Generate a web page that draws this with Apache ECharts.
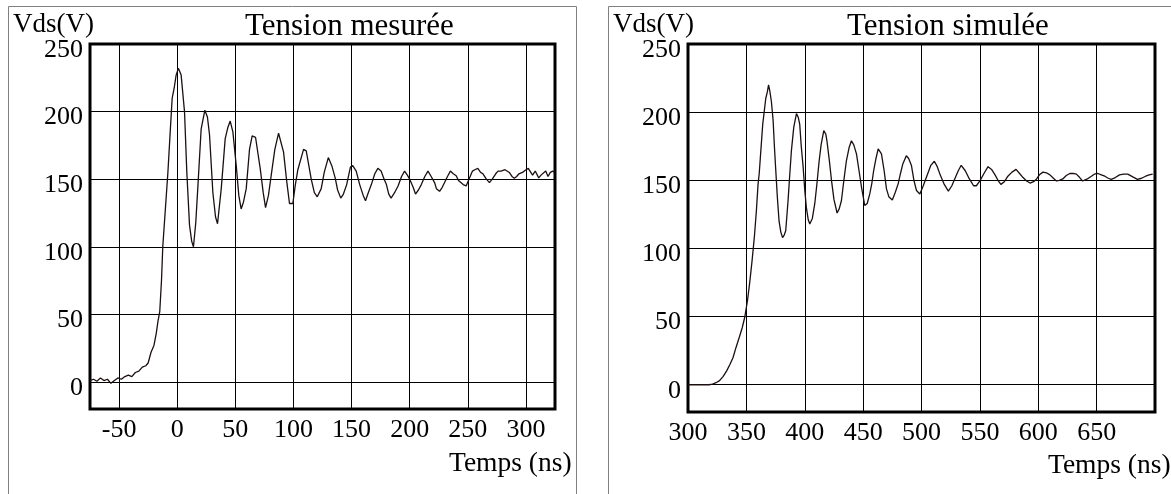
<!DOCTYPE html>
<html>
<head>
<meta charset="utf-8">
<script src="https://cdn.jsdelivr.net/npm/echarts@6/dist/echarts.min.js"></script>
<style>
  html, body { margin: 0; padding: 0; background: #fff; }
  #chart { width: 1171px; height: 494px; }
</style>
</head>
<body>
<div id="chart"></div>
<script>
// Tension mesurée (ns, V)
const measTime = [-75, -72, -69, -66, -63, -60, -57, -54, -51, -48, -45, -42, -39, -36, -33, -30, -27, -25, -22.5, -20,
  -18, -16.5, -15, -13.5, -12.4, -10, -8, -6, -4.3, -2.5, -0.9, 1, 2, 3.4, 5, 6.3, 8.3, 10.6, 12.5, 14,
  16, 17.7, 20.6, 23.8, 26, 27.8, 30.7, 33, 34.7, 37.9, 41.3, 43.5, 45.6, 47.9, 50.8, 53, 55, 57, 59.4, 62.2,
  64.5, 67.4, 71.4, 74, 76, 78.5, 80.9, 84, 87.2, 91.5, 94, 96.6, 99.5, 101.5, 103.8, 108.7, 111, 115.3, 118, 120.5,
  123.9, 126.5, 130, 133, 135.9, 138, 140.7, 143, 145.8, 149, 151, 154, 157, 160, 162, 164, 167, 170, 172.6, 175.4,
  178, 180, 182, 184, 187, 190, 193, 195.6, 198, 200, 203, 205, 207.5, 210, 213, 215.7, 218.5, 221.4, 223, 225.7,
  228, 230, 232.5, 235, 237.5, 240, 242, 244, 246, 248.6, 251, 254, 256, 258.6, 261, 263, 266, 268.6, 271, 274,
  276, 278.6, 282, 285.7, 288, 290, 292, 294, 297, 300, 302, 305.7, 308, 311, 313, 317, 319, 321, 323, 325];
const measVolt = [1, 2, 0.5, 3, 1, 2, -1, 1, 3, 2, 4, 5, 4, 7, 8, 11, 12, 14, 22, 27,
  36, 45, 52, 75, 100, 130, 155, 185, 210, 218, 227, 232, 230, 227, 212, 200, 155, 116, 104, 100,
  118, 143, 187, 201, 196, 183, 140, 122, 117, 143, 180, 188, 193, 185, 160, 138, 128, 133, 143, 172,
  182, 181, 158, 140, 129, 138, 153, 172, 184, 170, 150, 132, 132, 145, 157, 172, 171, 150, 140, 137,
  143, 155, 166, 160, 151, 142, 136, 139, 146, 159, 160, 156, 146, 138, 134, 139, 146, 154, 158, 156,
  150, 146, 139, 136, 140, 145, 152, 156, 153, 150, 144, 139, 142, 146, 152, 156, 152, 147.5, 143, 141,
  144, 147.5, 152, 156, 154, 152.5, 149, 147.5, 146, 145, 150, 156, 157, 158, 155, 154, 150, 147.5, 150, 154,
  156, 156, 157, 155, 152, 150.7, 152, 154, 155, 157, 158, 153, 156, 151, 153, 156, 152, 155, 156, 155];

// Tension simulée (ns, V)
const simTime = [300, 310, 318, 321, 324, 327, 330, 333, 336, 338.6, 341, 344, 346.5, 348.6, 351, 353, 355, 357, 358.6, 360,
  361, 362, 364, 366.6, 368, 369, 370, 371.4, 372.9, 374, 375, 376.5, 378, 379.5, 381, 382.5, 383.7, 385.7, 387, 388.6,
  390.6, 392.9, 394.5, 395.7, 397, 398.6, 400, 401.4, 403, 404.3, 406.5, 408.6, 410.5, 412.3, 414, 416.3, 418, 419, 421, 422.9,
  425, 427.7, 429.5, 431.4, 433.5, 435.7, 438, 440, 442, 444.3, 446.5, 448.6, 451.4, 453.5, 455.7, 457.5, 459, 461, 462.9, 464.5,
  465.7, 468, 470, 472, 475, 477.5, 480, 482, 484, 487, 489, 491.4, 493.5, 495.7, 498.6, 501.5, 505, 508, 511, 513.5,
  516, 519.5, 523, 526, 529, 531.5, 534, 537.5, 541, 544.6, 547, 550, 553.5, 557, 560, 563, 565.5, 568, 571, 574,
  577.5, 581, 584, 587, 590, 593, 596, 598.6, 601, 604, 607, 610, 613, 615.6, 618, 621, 624, 627, 630, 632.7,
  635.5, 638, 642, 645.5, 648, 651, 654, 657, 660, 662.5, 666, 669.6, 673, 676.7, 681, 685, 688.5, 692, 695, 698];
const simVolt = [0, 0, 0, 0.5, 1.5, 3, 6, 10, 15, 20, 27, 35, 42, 49.5, 62, 76, 92, 110, 128, 147,
  155, 167, 191, 210, 215, 220, 216, 208, 194, 175, 160, 138, 120, 112, 108, 110, 113, 135, 152, 172,
  189, 199, 196, 191, 175, 160, 143, 130, 121, 118, 122, 133, 148, 164, 176, 186.5, 184, 179, 165, 150,
  136, 126, 129, 135, 150, 164.5, 174, 179, 176, 169.4, 157, 145, 131.5, 133, 140, 148, 157, 166, 173, 172,
  169.4, 157, 143.7, 138, 135.6, 141, 147.4, 155, 162, 168, 166, 160.8, 150, 142.5, 140, 146, 154, 161, 164, 160,
  154, 147, 142, 146, 152, 157, 161, 157, 151, 146, 146, 149.5, 155, 160, 158, 154, 150, 147, 149, 153,
  156, 158, 155, 152, 149.5, 148, 149, 151, 154, 156, 155.5, 154, 151.5, 149.5, 150, 151, 153.5, 155, 155, 154.5,
  152, 149.5, 151, 153, 154.5, 155, 154, 153, 151.5, 150.7, 152, 154, 154.5, 154.5, 152.5, 150.7, 151.5, 153, 154, 154.5];

const xTicksMeas = [-50, 0, 50, 100, 150, 200, 250, 300];
const xTicksSim = [350, 400, 450, 500, 550, 600, 650];
const xLabelsSim = [300, 350, 400, 450, 500, 550, 600, 650];
const yTicks = [0, 50, 100, 150, 200, 250];

const SERIF = '"Liberation Serif", "DejaVu Serif", serif';
const INK = '#1c0f0f';

const chart = echarts.init(document.getElementById('chart'));

function xAxisFor(gridIndex, min, max, ticks, labels) {
  return {
    gridIndex, type: 'value', min, max,
    axisLine: { show: false },
    axisTick: { show: false, customValues: ticks },
    axisLabel: { customValues: labels, fontFamily: SERIF, fontSize: 26, color: '#000', margin: 8 },
    splitLine: { show: true, lineStyle: { color: '#000', width: 1 } },
  };
}

function yAxisFor(gridIndex) {
  return {
    gridIndex, type: 'value', min: -20, max: 250,
    axisLine: { show: false },
    axisTick: { show: false, customValues: yTicks },
    axisLabel: {
      customValues: yTicks, color: '#000', margin: 7,
      // labels sit a little below their grid lines in the original
      formatter: (v) => '{v|' + v + '}' + (v === 250 ? '' : ''),
      rich: {
        v: { fontFamily: SERIF, fontSize: 26, color: '#000', padding: [12, 0, 0, 0] },
      },
    },
    splitLine: { show: true, lineStyle: { color: '#000', width: 1 } },
  };
}

function text(x, y, str, size) {
  return {
    type: 'text', x, y, z: 10,
    style: { text: str, fontFamily: SERIF, fontSize: size, fill: '#000', verticalAlign: 'middle' },
  };
}

chart.setOption({
  animation: false,
  backgroundColor: '#fff',
  grid: [
    { left: 90, top: 44, width: 465, height: 365, show: true, borderWidth: 3, borderColor: '#000', backgroundColor: 'transparent' },
    { left: 688, top: 44, width: 467, height: 368, show: true, borderWidth: 3, borderColor: '#000', backgroundColor: 'transparent' },
  ],
  xAxis: [
    xAxisFor(0, -75, 325, xTicksMeas, xTicksMeas),
    xAxisFor(1, 300, 700, xTicksSim, xLabelsSim),
  ],
  yAxis: [yAxisFor(0), yAxisFor(1)],
  series: [
    {
      type: 'line', xAxisIndex: 0, yAxisIndex: 0, showSymbol: false,
      lineStyle: { color: INK, width: 1.3 },
      data: measTime.map((t, i) => [t, measVolt[i]]),
    },
    {
      type: 'line', xAxisIndex: 1, yAxisIndex: 1, showSymbol: false,
      lineStyle: { color: INK, width: 1.3 },
      data: simTime.map((t, i) => [t, simVolt[i]]),
    },
  ],
  graphic: [
    { type: 'polyline', shape: { points: [[8.5, 494], [8.5, 6.5], [576.5, 6.5], [576.5, 494]] }, style: { stroke: '#808080', lineWidth: 1, fill: null } },
    { type: 'polyline', shape: { points: [[608.5, 494], [608.5, 6.5], [1171, 6.5]] }, style: { stroke: '#808080', lineWidth: 1, fill: null } },
    text(13, 25, 'Vds(V)', 27),
    text(245, 27, 'Tension mesurée', 31),
    text(449, 464, 'Temps (ns)', 27.5),
    text(613, 25, 'Vds(V)', 27),
    text(847, 27, 'Tension simulée', 31),
    text(1048, 466, 'Temps (ns)', 27.5),
  ],
});
</script>
</body>
</html>
